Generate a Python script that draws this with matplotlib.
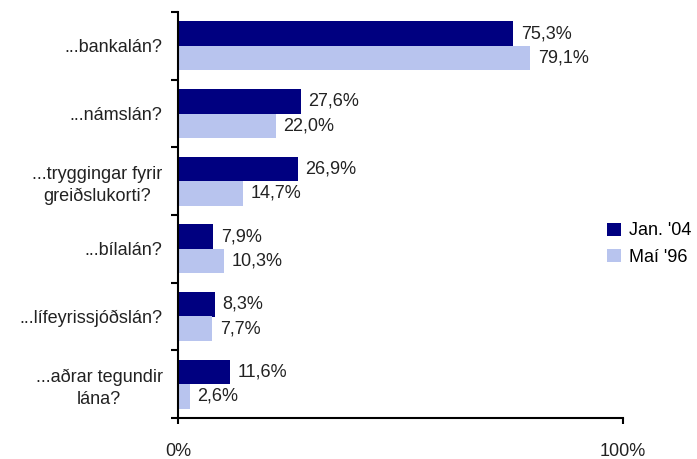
import numpy as np
import matplotlib.pyplot as plt

categories = ["...bankalán?", "...námslán?", "...tryggingar fyrir\ngreiðslukorti?",
              "...bílalán?", "...lífeyrissjóðslán?", "...aðrar tegundir\nlána?"]
jan04 = [75.3, 27.6, 26.9, 7.9, 8.3, 11.6]
mai96 = [79.1, 22.0, 14.7, 10.3, 7.7, 2.6]
series_names = ["Jan. '04", "Maí '96"]
colors = ["#000080", "#B8C4EE"]


def fmt(v):
    return f"{v:.1f}%".replace(".", ",")


def main():
    plt.rcParams["font.family"] = ["Liberation Sans", "DejaVu Sans"]
    fs = 13
    fig = plt.figure(figsize=(6.97, 4.59), dpi=100)
    ax = fig.add_axes([178 / 697, 1 - 418 / 459, 445 / 697, 406 / 459])

    y = np.arange(len(categories))
    h = 0.36
    bars = []
    for i, (vals, name) in enumerate(zip([jan04, mai96], series_names)):
        pos = y - h / 2 + i * h
        b = ax.barh(pos, vals, height=h, color=colors[i], label=name)
        bars.append(b)
        for p, v in zip(pos, vals):
            ax.annotate(fmt(v), (v, p), xytext=(5.5, 0), textcoords="offset points",
                        va="center", ha="left", fontsize=fs, color="#222222")

    ax.set_xlim(0, 100)
    ax.set_ylim(len(categories) - 0.5, -0.5)
    ax.spines["top"].set_visible(False)
    ax.spines["right"].set_visible(False)
    for s in ["left", "bottom"]:
        ax.spines[s].set_linewidth(1.5)

    ax.set_xticks([0, 100])
    ax.set_xticklabels(["0%", "100%"], fontsize=fs, color="#222222")
    ax.tick_params(axis="x", length=4, width=1.5, pad=14)

    ax.set_yticks(y)
    ax.set_yticklabels(categories, fontsize=fs, color="#222222",
                       multialignment="center", linespacing=1.35)
    ax.tick_params(axis="y", which="major", length=0, pad=11)
    ax.set_yticks(np.arange(-0.5, len(categories), 1), minor=True)
    ax.tick_params(axis="y", which="minor", length=5, width=1.5)

    fig.legend(handles=bars, labels=series_names, loc="center left",
               bbox_to_anchor=(607 / 697, 1 - 244 / 459), frameon=False,
               fontsize=fs, handlelength=0.75, handleheight=0.75,
               handletextpad=0.45, labelspacing=0.5, borderpad=0, borderaxespad=0)

    fig.savefig("out.png", dpi=100)
    plt.close(fig)


if __name__ == "__main__":
    main()
